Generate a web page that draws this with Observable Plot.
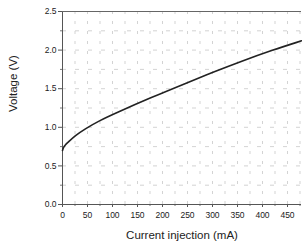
<!DOCTYPE html>
<html><head><meta charset="utf-8">
<script src="https://cdn.jsdelivr.net/npm/d3@7"></script>
<script src="https://cdn.jsdelivr.net/npm/@observablehq/plot@0.6"></script>
<style>body{margin:0;background:#fff;} svg{display:block;}</style>
</head><body><div id="chart"></div>
<script>
const current = [0, 2, 5, 12, 25, 45, 75, 105, 175, 254, 300, 360, 420, 478];
const voltage = [0.70, 0.74, 0.77, 0.81, 0.89, 0.98, 1.09, 1.18, 1.38, 1.59, 1.71, 1.86, 2.00, 2.12];
const xTicks = [0, 50, 100, 150, 200, 250, 300, 350, 400, 450];
const xMinor = [25, 75, 125, 175, 225, 275, 325, 375, 425, 475];
const yTicks = [0, 0.5, 1.0, 1.5, 2.0, 2.5];
const yMinor = [0.25, 0.75, 1.25, 1.75, 2.25];
const data = current.map((c, i) => ({c, v: voltage[i]}));

const chart = Plot.plot({
  width: 302, height: 250,
  marginLeft: 62, marginRight: 1, marginTop: 11, marginBottom: 46,
  style: {fontFamily: "Liberation Sans, Arial, sans-serif", background: "#fff", color: "#222"},
  x: {domain: [0, 478]},
  y: {domain: [0, 2.5]},
  marks: [
    Plot.ruleX(xMinor.concat(xTicks.slice(1)), {stroke: "#c8c8c8", strokeDasharray: "3,7", strokeWidth: 0.8}),
    Plot.ruleY(yMinor.concat(yTicks.slice(1, 5)), {stroke: "#c8c8c8", strokeDasharray: "4,9", strokeWidth: 0.8}),
    Plot.axisX({ticks: xTicks, tickFormat: d => d, tickSize: 3, fontSize: 8.5, label: null, stroke: "#555", tickPadding: 4}),
    Plot.axisX({ticks: xMinor, tickFormat: () => "", tickSize: 2, label: null, stroke: "#777"}),
    Plot.axisY({ticks: yTicks, tickFormat: d3.format(".1f"), tickSize: 4, fontSize: 8.5, label: null, stroke: "#555", tickPadding: 2}),
    Plot.axisY({ticks: yMinor, tickFormat: () => "", tickSize: 2, label: null, stroke: "#777"}),
    Plot.ruleX([0], {stroke: "#555", strokeWidth: 1}),
    Plot.ruleY([0], {stroke: "#555", strokeWidth: 1}),
    Plot.ruleY([2.5], {stroke: "#666", strokeWidth: 1}),
    Plot.line(data, {x: "c", y: "v", curve: "basis", stroke: "#222", strokeWidth: 1.6}),
    Plot.text(["Current injection (mA)"], {frameAnchor: "bottom", dy: 34, fontSize: 11.5, fill: "#222"}),
    Plot.text(["Voltage (V)"], {frameAnchor: "left", dx: -49, dy: 4, rotate: -90, fontSize: 11.5, fill: "#222"})
  ]
});
document.getElementById("chart").append(chart);
</script></body></html>
